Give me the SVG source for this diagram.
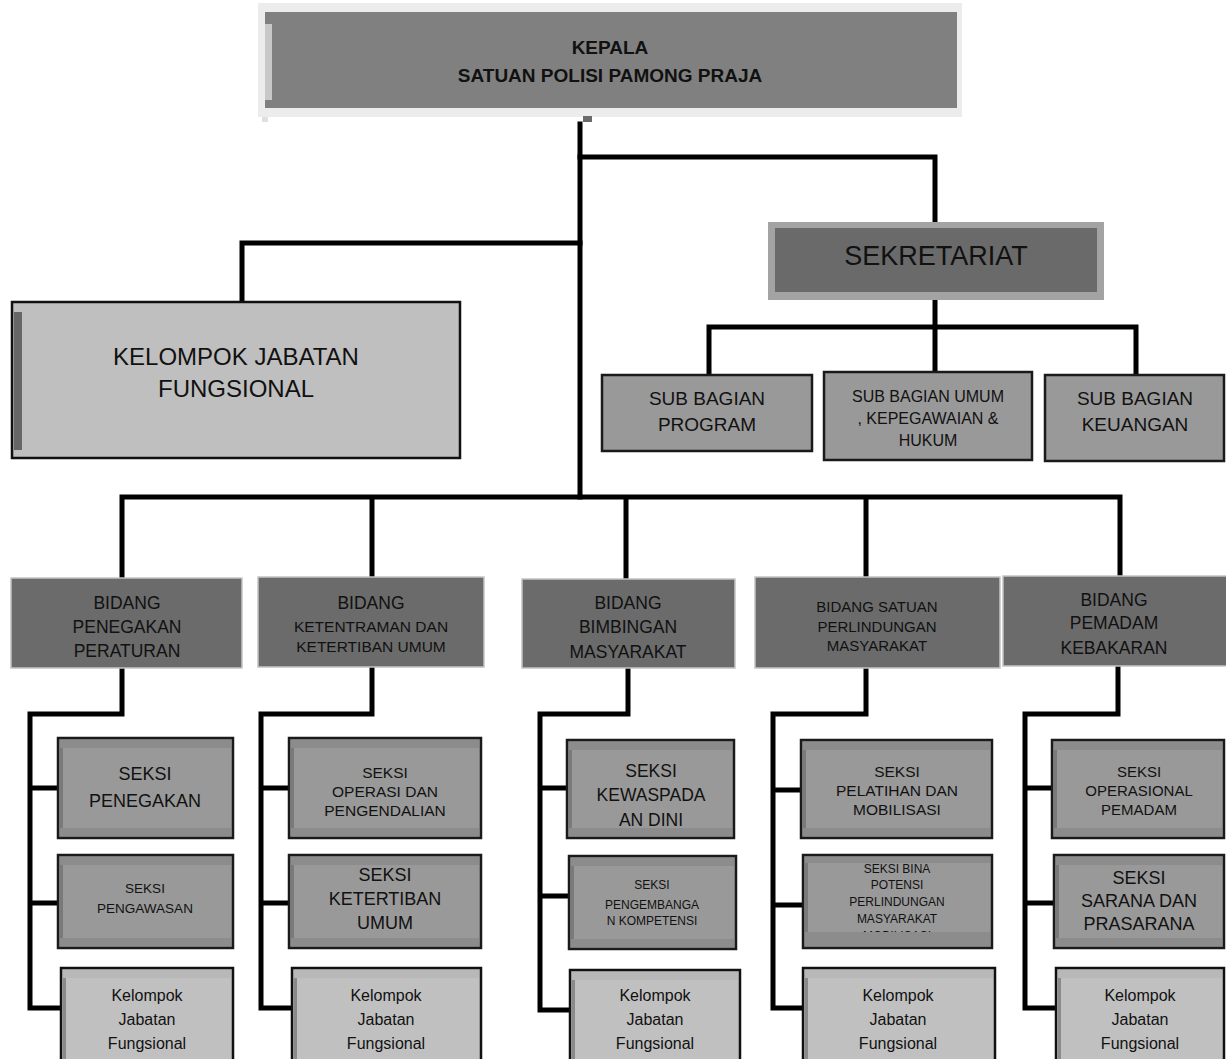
<svg xmlns="http://www.w3.org/2000/svg" width="1226" height="1059" viewBox="0 0 1226 1059">
<style>
.ln{stroke:#000;stroke-width:5;fill:none;stroke-linejoin:miter;stroke-linecap:square}
.t{font-family:"Liberation Sans",Arial,sans-serif;fill:#111;text-anchor:middle}
.b{font-weight:bold}
.bid{fill:#6b6b6b;stroke:#c4c4c4;stroke-width:1.5}
.sek{fill:#999;stroke:#1a1a1a;stroke-width:2.5}
.kel{fill:#c0c0c0;stroke:#111;stroke-width:2.5}
.band{fill:#8c8c8c}
.kband{fill:#b8b8b8}
.strip{fill:#7a7a7a}
.kstrip{fill:#8a8a8a}
</style>
<rect width="1226" height="1059" fill="#fff"/>
<g id="connectors">
<path class="ln" d="M580 124V497"/>
<path class="ln" d="M580 157H935V222"/>
<path class="ln" d="M580 243H242V302"/>
<path class="ln" d="M935 300V372M709 375V327H1136V375"/>
<path class="ln" d="M122 578V497H1120V576M372 497V577M626 497V579M866 497V577"/>
<path class="ln" d="M122 668V714H30V1008H61M30 788H58M30 903H58"/>
<path class="ln" d="M372 667V714H261V1008H292M261 788H289M261 903H289"/>
<path class="ln" d="M628 668V714H540V1010H570M540 788H567M540 896H569"/>
<path class="ln" d="M866 668V714H773V1008H803M773 790H801M773 905H803"/>
<path class="ln" d="M1118 666V714H1025V1008H1056M1025 788H1052M1025 903H1054"/>
</g>
<g id="kepala">
<rect x="258" y="3" width="704" height="114" fill="#ececec"/>
<rect x="265" y="12" width="692" height="96" fill="#808080"/>
<rect x="265" y="24" width="7" height="76" fill="#c8c8c8"/>
<rect x="262" y="117" width="6" height="5" fill="#e0e0e0"/>
<rect x="583" y="116" width="9" height="6" fill="#6b6b6b"/>
<text class="t b" x="610" y="54" font-size="19">KEPALA</text>
<text class="t b" x="610" y="82" font-size="19">SATUAN POLISI PAMONG PRAJA</text>
</g>
<g id="kelompok-jf">
<rect x="12" y="302" width="448" height="156" fill="#bfbfbf" stroke="#111" stroke-width="2.5"/>
<rect x="14" y="312" width="8" height="138" fill="#666"/>
<text class="t" x="236" y="365" font-size="24">KELOMPOK JABATAN</text>
<text class="t" x="236" y="397" font-size="24">FUNGSIONAL</text>
</g>
<g id="sekretariat">
<rect x="768" y="222" width="336" height="78" fill="#a3a3a3"/>
<rect x="775" y="228" width="322" height="64" fill="#6a6a6a"/>
<text class="t" x="936" y="265" font-size="27">SEKRETARIAT</text>
</g>
<g id="sub-program">
<rect class="sek" x="602" y="375" width="210" height="76"/>
<text class="t" x="707" y="405" font-size="19">SUB BAGIAN</text>
<text class="t" x="707" y="431" font-size="19">PROGRAM</text>
</g>
<g id="sub-umum">
<rect class="sek" x="824" y="372" width="208" height="88"/>
<text class="t" x="928" y="402" font-size="16">SUB BAGIAN UMUM</text>
<text class="t" x="928" y="424" font-size="16">, KEPEGAWAIAN &amp;</text>
<text class="t" x="928" y="446" font-size="16">HUKUM</text>
</g>
<g id="sub-keuangan">
<rect class="sek" x="1045" y="375" width="179" height="86"/>
<text class="t" x="1135" y="405" font-size="19">SUB BAGIAN</text>
<text class="t" x="1135" y="431" font-size="19">KEUANGAN</text>
</g>
<g id="bidang-penegakan">
<rect class="bid" x="11" y="578" width="231" height="90"/>
<text class="t" x="127" y="609" font-size="17.5">BIDANG</text>
<text class="t" x="127" y="633" font-size="17.5">PENEGAKAN</text>
<text class="t" x="127" y="657" font-size="17.5">PERATURAN</text>
</g>
<g id="bidang-ketentraman">
<rect class="bid" x="258" y="577" width="226" height="90"/>
<text class="t" x="371" y="609" font-size="17.5">BIDANG</text>
<text class="t" x="371" y="632" font-size="15.5">KETENTRAMAN DAN</text>
<text class="t" x="371" y="652" font-size="15.5">KETERTIBAN UMUM</text>
</g>
<g id="bidang-bimbingan">
<rect class="bid" x="522" y="579" width="213" height="89"/>
<text class="t" x="628" y="609" font-size="17.5">BIDANG</text>
<text class="t" x="628" y="633" font-size="17.5">BIMBINGAN</text>
<text class="t" x="628" y="658" font-size="17.5">MASYARAKAT</text>
</g>
<g id="bidang-satuan">
<rect class="bid" x="755" y="577" width="245" height="91"/>
<text class="t" x="877" y="612" font-size="15">BIDANG SATUAN</text>
<text class="t" x="877" y="632" font-size="15">PERLINDUNGAN</text>
<text class="t" x="877" y="651" font-size="15">MASYARAKAT</text>
</g>
<g id="bidang-pemadam">
<rect class="bid" x="1003" y="576" width="224" height="90"/>
<text class="t" x="1114" y="606" font-size="17.5">BIDANG</text>
<text class="t" x="1114" y="629" font-size="17.5">PEMADAM</text>
<text class="t" x="1114" y="654" font-size="17.5">KEBAKARAN</text>
</g>
<g id="seksi-penegakan">
<rect class="sek" x="58" y="738" width="175" height="100"/>
<rect class="band" x="60" y="740" width="171" height="8"/><rect class="band" x="60" y="828" width="171" height="8"/><rect class="strip" x="60" y="748" width="3" height="80"/>
<text class="t" x="145" y="780" font-size="18">SEKSI</text>
<text class="t" x="145" y="807" font-size="18">PENEGAKAN</text>
</g>
<g id="seksi-pengawasan">
<rect class="sek" x="58" y="855" width="175" height="93"/>
<rect class="band" x="60" y="857" width="171" height="8"/><rect class="band" x="60" y="938" width="171" height="8"/><rect class="strip" x="60" y="865" width="3" height="73"/>
<text class="t" x="145" y="893" font-size="13.5">SEKSI</text>
<text class="t" x="145" y="913" font-size="13.5">PENGAWASAN</text>
</g>
<g id="kjf-1">
<rect class="kel" x="61" y="968" width="172" height="100"/>
<rect class="kband" x="63" y="970" width="168" height="8"/><rect class="kstrip" x="63" y="978" width="3" height="85"/>
<text class="t" x="147" y="1001" font-size="16">Kelompok</text>
<text class="t" x="147" y="1025" font-size="16">Jabatan</text>
<text class="t" x="147" y="1049" font-size="16">Fungsional</text>
</g>
<g id="seksi-operasi">
<rect class="sek" x="289" y="738" width="192" height="100"/>
<rect class="band" x="291" y="740" width="188" height="8"/><rect class="band" x="291" y="828" width="188" height="8"/><rect class="strip" x="291" y="748" width="3" height="80"/>
<text class="t" x="385" y="778" font-size="15.5">SEKSI</text>
<text class="t" x="385" y="797" font-size="15.5">OPERASI DAN</text>
<text class="t" x="385" y="816" font-size="15.5">PENGENDALIAN</text>
</g>
<g id="seksi-ketertiban">
<rect class="sek" x="289" y="855" width="192" height="93"/>
<rect class="band" x="291" y="857" width="188" height="8"/><rect class="band" x="291" y="938" width="188" height="8"/><rect class="strip" x="291" y="865" width="3" height="73"/>
<text class="t" x="385" y="881" font-size="18">SEKSI</text>
<text class="t" x="385" y="905" font-size="18">KETERTIBAN</text>
<text class="t" x="385" y="929" font-size="18">UMUM</text>
</g>
<g id="kjf-2">
<rect class="kel" x="292" y="968" width="189" height="100"/>
<rect class="kband" x="294" y="970" width="185" height="8"/><rect class="kstrip" x="294" y="978" width="3" height="85"/>
<text class="t" x="386" y="1001" font-size="16">Kelompok</text>
<text class="t" x="386" y="1025" font-size="16">Jabatan</text>
<text class="t" x="386" y="1049" font-size="16">Fungsional</text>
</g>
<g id="seksi-kewaspadaan">
<rect class="sek" x="567" y="740" width="167" height="98"/>
<rect class="band" x="569" y="742" width="163" height="8"/><rect class="band" x="569" y="828" width="163" height="8"/><rect class="strip" x="569" y="750" width="3" height="78"/>
<text class="t" x="651" y="777" font-size="17.5">SEKSI</text>
<text class="t" x="651" y="801" font-size="17.5">KEWASPADA</text>
<text class="t" x="651" y="826" font-size="17.5">AN DINI</text>
</g>
<g id="seksi-pengembangan">
<rect class="sek" x="569" y="856" width="167" height="93"/>
<rect class="band" x="571" y="858" width="163" height="8"/><rect class="band" x="571" y="939" width="163" height="8"/><rect class="strip" x="571" y="866" width="3" height="73"/>
<text class="t" x="652" y="889" font-size="12">SEKSI</text>
<text class="t" x="652" y="909" font-size="12">PENGEMBANGA</text>
<text class="t" x="652" y="925" font-size="12">N KOMPETENSI</text>
</g>
<g id="kjf-3">
<rect class="kel" x="570" y="970" width="170" height="100"/>
<rect class="kband" x="572" y="972" width="166" height="8"/><rect class="kstrip" x="572" y="980" width="3" height="85"/>
<text class="t" x="655" y="1001" font-size="16">Kelompok</text>
<text class="t" x="655" y="1025" font-size="16">Jabatan</text>
<text class="t" x="655" y="1049" font-size="16">Fungsional</text>
</g>
<g id="seksi-pelatihan">
<rect class="sek" x="801" y="740" width="191" height="98"/>
<rect class="band" x="803" y="742" width="187" height="8"/><rect class="band" x="803" y="828" width="187" height="8"/><rect class="strip" x="803" y="750" width="3" height="78"/>
<text class="t" x="897" y="777" font-size="15.5">SEKSI</text>
<text class="t" x="897" y="796" font-size="15.5">PELATIHAN DAN</text>
<text class="t" x="897" y="815" font-size="15.5">MOBILISASI</text>
</g>
<g id="seksi-bina-potensi">
<rect class="sek" x="803" y="855" width="189" height="93"/>
<text class="t" x="897" y="873" font-size="12">SEKSI BINA</text>
<text class="t" x="897" y="889" font-size="12">POTENSI</text>
<text class="t" x="897" y="906" font-size="12">PERLINDUNGAN</text>
<text class="t" x="897" y="923" font-size="12">MASYARAKAT</text>
<text class="t" x="897" y="940" font-size="12">MOBILISASI</text>
<rect class="band" x="805" y="857" width="185" height="6"/><rect class="band" x="805" y="932" width="185" height="14"/><rect class="strip" x="805" y="863" width="3" height="69"/>
</g>
<g id="kjf-4">
<rect class="kel" x="803" y="968" width="192" height="100"/>
<rect class="kband" x="805" y="970" width="188" height="8"/><rect class="kstrip" x="805" y="978" width="3" height="85"/>
<text class="t" x="898" y="1001" font-size="16">Kelompok</text>
<text class="t" x="898" y="1025" font-size="16">Jabatan</text>
<text class="t" x="898" y="1049" font-size="16">Fungsional</text>
</g>
<g id="seksi-operasional">
<rect class="sek" x="1052" y="740" width="172" height="98"/>
<rect class="band" x="1054" y="742" width="168" height="8"/><rect class="band" x="1054" y="828" width="168" height="8"/><rect class="strip" x="1054" y="750" width="3" height="78"/>
<text class="t" x="1139" y="777" font-size="15">SEKSI</text>
<text class="t" x="1139" y="796" font-size="15">OPERASIONAL</text>
<text class="t" x="1139" y="815" font-size="15">PEMADAM</text>
</g>
<g id="seksi-sarana">
<rect class="sek" x="1054" y="855" width="170" height="93"/>
<rect class="band" x="1056" y="857" width="166" height="8"/><rect class="band" x="1056" y="938" width="166" height="8"/><rect class="strip" x="1056" y="865" width="3" height="73"/>
<text class="t" x="1139" y="884" font-size="18">SEKSI</text>
<text class="t" x="1139" y="907" font-size="18">SARANA DAN</text>
<text class="t" x="1139" y="930" font-size="18">PRASARANA</text>
</g>
<g id="kjf-5">
<rect class="kel" x="1056" y="968" width="168" height="100"/>
<rect class="kband" x="1058" y="970" width="164" height="8"/><rect class="kstrip" x="1058" y="978" width="3" height="85"/>
<text class="t" x="1140" y="1001" font-size="16">Kelompok</text>
<text class="t" x="1140" y="1025" font-size="16">Jabatan</text>
<text class="t" x="1140" y="1049" font-size="16">Fungsional</text>
</g>
</svg>
